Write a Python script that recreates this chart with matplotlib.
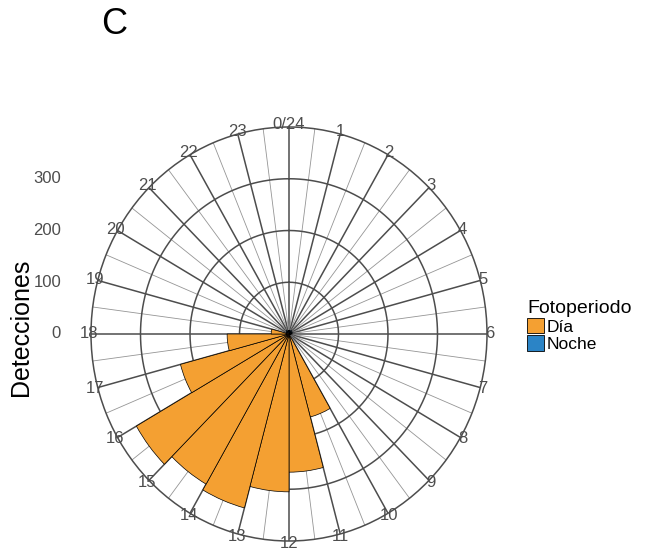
import numpy as np
import matplotlib
matplotlib.use("Agg")
import matplotlib.pyplot as plt
import matplotlib.transforms as mtransforms
from matplotlib.patches import Patch

plt.rcParams['font.family'] = ['Liberation Sans', 'DejaVu Sans']

# Detections per hour (bar spans [h, h+1])
hours = np.arange(24)
dia = [0, 0, 0, 0, 0, 0, 0, 0, 0, 0, 166, 267, 305, 348, 335, 356, 227, 125, 36, 0, 0, 0, 0, 0]
noche = [7, 6, 8, 5, 7, 6, 4, 0, 0, 0, 0, 0, 0, 0, 0, 0, 0, 0, 0, 5, 6, 8, 6, 7]
r_breaks = [0, 100, 200, 300]
hour_labels = ['0/24'] + [str(h) for h in range(1, 24)]
r_max = 400

col_dia = '#F4A032'
col_noche = '#2B84C6'
grid_dark = '#4d4d4d'
grid_light = '#959595'
text_col = '#4d4d4d'

fig = plt.figure(figsize=(6.53, 5.6), dpi=100)
ax = fig.add_axes([91 / 653, 19 / 560, 396 / 653, 414 / 560], projection='polar')
ax.set_aspect('auto')
ax.set_theta_zero_location('N')
ax.set_theta_direction(-1)
ax.set_ylim(0, r_max)
ax.set_xticks([])
ax.set_yticks([])
ax.grid(False)
ax.spines['polar'].set_color(grid_dark)
ax.spines['polar'].set_linewidth(1.1)

# grid: spokes every half hour, circles at breaks
step = 2 * np.pi / 24
for h in np.arange(0, 24, 0.5):
    th = h * step
    major = float(h).is_integer()
    ax.plot([th, th], [0, r_max], color=grid_dark if major else grid_light,
            lw=1.1 if major else 0.6, zorder=1)
circ = np.linspace(0, 2 * np.pi, 361)
for r in r_breaks[1:]:
    ax.plot(circ, np.full_like(circ, r), color=grid_dark, lw=1.1, zorder=1)

# bars
theta = hours * step
ax.bar(theta, noche, width=step, align='edge', color=col_noche,
       edgecolor='black', linewidth=0.5, zorder=3)
ax.bar(theta, dia, width=step, align='edge', color=col_dia,
       edgecolor='black', linewidth=0.5, zorder=3)

# hour labels around the rim
for h, lab in zip(hours, hour_labels):
    ax.text(h * step, r_max * 1.012, lab, ha='center', va='center',
            fontsize=12, color=text_col, zorder=5)

# radial axis labels on the left
shift = mtransforms.ScaledTranslation(-228 / 100, 0, fig.dpi_scale_trans)
for r in r_breaks:
    ax.text(0, r, str(r), transform=ax.transData + shift, ha='right',
            va='center', fontsize=12, color=text_col)

fig.text(21 / 653, 1 - 327 / 560, 'Detecciones', rotation=90, ha='center',
         va='center', fontsize=18, color='black')
fig.text(114 / 653, 1 - 25 / 560, 'C', ha='center', va='center',
         fontsize=26, color='black')

handles = [Patch(facecolor=col_dia, edgecolor='black', linewidth=0.6, label='Día'),
           Patch(facecolor=col_noche, edgecolor='black', linewidth=0.6, label='Noche')]
fig.legend(handles=handles, title='Fotoperiodo', loc='upper left',
           bbox_to_anchor=(527 / 653, 1 - 300 / 560), frameon=False,
           fontsize=12.5, title_fontsize=14, alignment='left', borderpad=0,
           handlelength=1.0, handleheight=1.0, handletextpad=0.15,
           labelspacing=0.05, borderaxespad=0)

fig.savefig('out.png', dpi=100)
